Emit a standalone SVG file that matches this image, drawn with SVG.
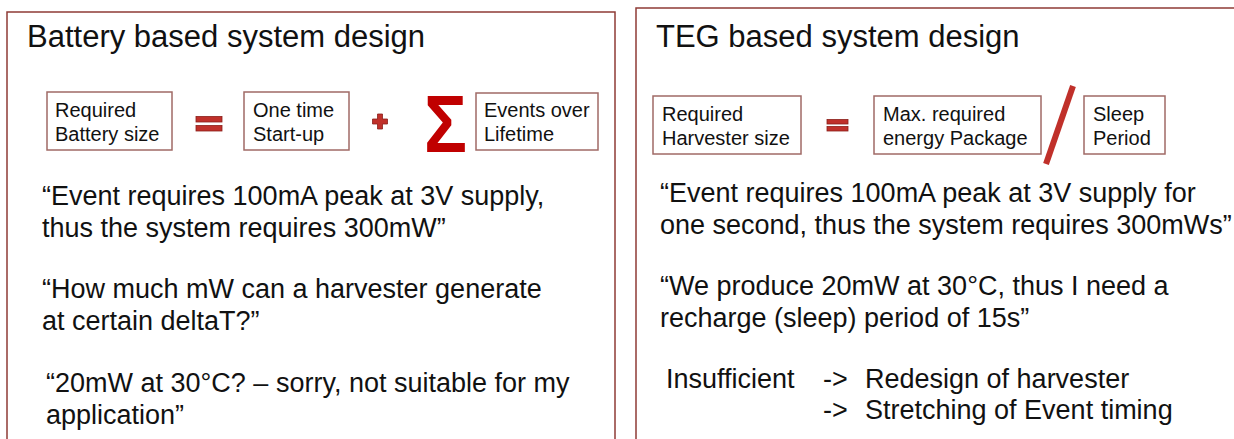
<svg xmlns="http://www.w3.org/2000/svg" width="1234" height="439" viewBox="0 0 1234 439">
<style>
.panel{fill:#ffffff;stroke:#8e3b36;stroke-width:1.5}
.box{fill:#ffffff;stroke:#a06a66;stroke-width:1.5}
.t{font-family:"Liberation Sans",Arial,sans-serif;fill:#111111}
.title{font-size:31px}
.body{font-size:27px}
.bx{font-size:20px}
.op{fill:#c0302a;stroke:#8a1f1a;stroke-width:0.8}
</style>
<rect width="1234" height="439" fill="#ffffff"/>
<g id="panel-battery">
<rect class="panel" x="7" y="12" width="608" height="440"/>
<text class="t title" x="27" y="47">Battery based system design</text>
</g>
<g id="panel-teg">
<rect class="panel" x="636" y="8" width="610" height="444"/>
<text class="t title" x="656" y="47">TEG based system design</text>
</g>
<g id="node-battery-size">
<rect class="box" x="47" y="92" width="125" height="58"/>
<text class="t bx" x="55" y="117">Required</text>
<text class="t bx" x="55" y="141">Battery size</text>
</g>
<g id="op-equal-1">
<rect class="op" x="196" y="116.5" width="26" height="5.5"/>
<rect class="op" x="196" y="125.5" width="26" height="5.5"/>
</g>
<g id="node-startup">
<rect class="box" x="244" y="92" width="105" height="58"/>
<text class="t bx" x="253" y="117">One time</text>
<text class="t bx" x="253" y="141">Start-up</text>
</g>
<g id="op-plus">
<path class="op" d="M377.5 114 h5 v5 h5 v5 h-5 v5 h-5 v-5 h-5 v-5 h5 z"/>
</g>
<g id="op-sum">
<text x="424" y="152" font-family="Liberation Sans,Arial,sans-serif" font-weight="bold" font-size="82" fill="#c00000" textLength="43" lengthAdjust="spacingAndGlyphs">Σ</text>
</g>
<g id="node-events">
<rect class="box" x="476" y="93" width="122" height="57"/>
<text class="t bx" x="484" y="117">Events over</text>
<text class="t bx" x="484" y="141">Lifetime</text>
</g>
<g id="battery-text">
<text class="t body" x="42" y="205">“Event requires 100mA peak at 3V supply,</text>
<text class="t body" x="42" y="237">thus the system requires 300mW”</text>
<text class="t body" x="42" y="298">“How much mW can a harvester generate</text>
<text class="t body" x="42" y="330">at certain deltaT?”</text>
<text class="t body" x="46" y="392">“20mW at 30°C? – sorry, not suitable for my</text>
<text class="t body" x="46" y="424">application”</text>
</g>
<g id="node-harvester-size">
<rect class="box" x="653" y="96" width="148" height="58"/>
<text class="t bx" x="662" y="121">Required</text>
<text class="t bx" x="662" y="145">Harvester size</text>
</g>
<g id="op-equal-2">
<rect class="op" x="827" y="119.5" width="21" height="4.5"/>
<rect class="op" x="827" y="126.5" width="21" height="4.5"/>
</g>
<g id="node-energy-package">
<rect class="box" x="874" y="96" width="167" height="58"/>
<text class="t bx" x="883" y="121">Max. required</text>
<text class="t bx" x="883" y="145">energy Package</text>
</g>
<g id="op-divide">
<line x1="1073" y1="86" x2="1046" y2="164" stroke="#c0302a" stroke-width="6"/>
</g>
<g id="node-sleep">
<rect class="box" x="1084" y="96" width="81" height="58"/>
<text class="t bx" x="1093" y="121">Sleep</text>
<text class="t bx" x="1093" y="145">Period</text>
</g>
<g id="teg-text">
<text class="t body" x="660" y="202">“Event requires 100mA peak at 3V supply for</text>
<text class="t body" x="660" y="234">one second, thus the system requires 300mWs”</text>
<text class="t body" x="660" y="295">“We produce 20mW at 30°C, thus I need a</text>
<text class="t body" x="660" y="327">recharge (sleep) period of 15s”</text>
<text class="t body" x="666" y="388">Insufficient</text>
<text class="t body" x="823" y="388">-&gt;</text>
<text class="t body" x="865" y="388">Redesign of harvester</text>
<text class="t body" x="823" y="419">-&gt;</text>
<text class="t body" x="865" y="419">Stretching of Event timing</text>
</g>
<g id="connectors"></g>
</svg>
